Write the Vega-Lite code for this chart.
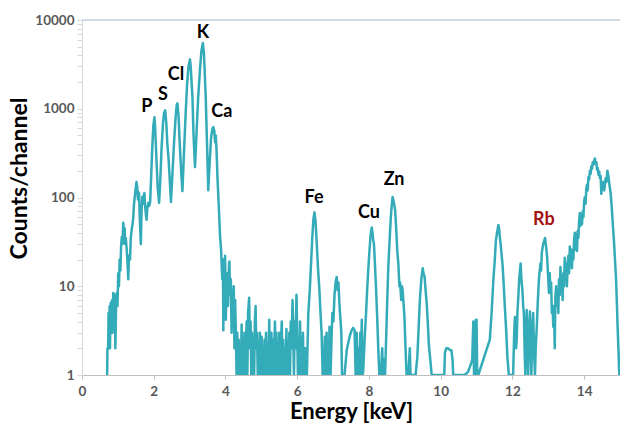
{
  "$schema": "https://vega.github.io/schema/vega-lite/v6.json",
  "width": 538,
  "height": 355,
  "autosize": "none",
  "padding": {"left": 82, "top": 20, "right": 1, "bottom": 48},
  "background": "white",
  "config": {"view": {"stroke": null}, "font": "Lato"},
  "datasets": {
    "spec": [
      {"e":0.70,"c":1},{"e":0.71,"c":2},{"e":0.73,"c":2},{"e":0.74,"c":5},{"e":0.75,"c":2},{"e":0.77,"c":6},{"e":0.78,"c":2},{"e":0.80,"c":6.5},{"e":0.82,"c":3},{"e":0.84,"c":7},{"e":0.85,"c":3},{"e":0.87,"c":8.4},{"e":0.89,"c":5},{"e":0.91,"c":8},{"e":0.93,"c":2},{"e":0.95,"c":6},{"e":0.97,"c":8.4},{"e":0.99,"c":6},
      {"e":1.01,"c":14},{"e":1.03,"c":10},{"e":1.05,"c":20},{"e":1.07,"c":15},{"e":1.09,"c":28},{"e":1.11,"c":36},{"e":1.13,"c":30},{"e":1.15,"c":52},{"e":1.17,"c":40},{"e":1.19,"c":45},{"e":1.20,"c":30},{"e":1.22,"c":35},{"e":1.25,"c":25},{"e":1.27,"c":18},{"e":1.29,"c":12},{"e":1.31,"c":22},{"e":1.34,"c":20},{"e":1.36,"c":35},{"e":1.39,"c":45},{"e":1.41,"c":50},{"e":1.43,"c":60},{"e":1.45,"c":85},{"e":1.47,"c":100},{"e":1.49,"c":120},{"e":1.52,"c":150},{"e":1.54,"c":130},{"e":1.56,"c":95},{"e":1.57,"c":115},{"e":1.59,"c":112},{"e":1.61,"c":60},{"e":1.64,"c":30},{"e":1.66,"c":70},{"e":1.68,"c":101},{"e":1.70,"c":85},{"e":1.72,"c":105},{"e":1.74,"c":112},{"e":1.76,"c":80},{"e":1.78,"c":65},{"e":1.80,"c":56},{"e":1.82,"c":75},{"e":1.85,"c":87},{"e":1.87,"c":80},{"e":1.90,"c":89},{"e":1.93,"c":180},{"e":1.96,"c":370},{"e":1.99,"c":650},{"e":2.02,"c":800},{"e":2.04,"c":600},{"e":2.08,"c":245},{"e":2.11,"c":130},{"e":2.15,"c":87},
      {"e":2.18,"c":150},{"e":2.22,"c":370},{"e":2.26,"c":700},{"e":2.29,"c":900},{"e":2.32,"c":960},{"e":2.35,"c":700},{"e":2.38,"c":400},{"e":2.41,"c":285},{"e":2.45,"c":150},{"e":2.48,"c":89},
      {"e":2.52,"c":180},{"e":2.57,"c":440},{"e":2.61,"c":800},{"e":2.64,"c":1100},{"e":2.66,"c":1150},{"e":2.69,"c":850},{"e":2.73,"c":370},{"e":2.77,"c":180},{"e":2.80,"c":118},
      {"e":2.84,"c":300},{"e":2.89,"c":890},{"e":2.93,"c":1900},{"e":2.97,"c":3000},{"e":3.01,"c":3600},{"e":3.03,"c":3000},{"e":3.08,"c":1350},{"e":3.11,"c":500},{"e":3.15,"c":220},
      {"e":3.19,"c":500},{"e":3.24,"c":1350},{"e":3.29,"c":2800},{"e":3.33,"c":4500},{"e":3.37,"c":5500},{"e":3.40,"c":4200},{"e":3.45,"c":1350},{"e":3.49,"c":350},{"e":3.52,"c":121},
      {"e":3.56,"c":250},{"e":3.60,"c":480},{"e":3.64,"c":600},{"e":3.66,"c":620},{"e":3.69,"c":560},{"e":3.71,"c":420},{"e":3.73,"c":500},{"e":3.75,"c":350},{"e":3.78,"c":157},{"e":3.82,"c":70},{"e":3.85,"c":36},{"e":3.88,"c":25},{"e":3.91,"c":12},{"e":3.93,"c":20},{"e":3.94,"c":3.2},{"e":3.96,"c":15},{"e":3.97,"c":11},{"e":3.99,"c":22},{"e":4.01,"c":4.2},{"e":4.03,"c":12},{"e":4.05,"c":14},{"e":4.07,"c":6},{"e":4.10,"c":18},{"e":4.11,"c":19},{"e":4.13,"c":8},{"e":4.15,"c":12},{"e":4.17,"c":3},{"e":4.19,"c":9},{"e":4.21,"c":4},{"e":4.23,"c":10},{"e":4.25,"c":2},{"e":4.27,"c":7},{"e":4.29,"c":3},{"e":4.31,"c":1},
      {"e":4.33,"c":3},{"e":4.35,"c":1},{"e":4.37,"c":2.5},{"e":4.39,"c":1},{"e":4.41,"c":2},{"e":4.43,"c":1},{"e":4.45,"c":3.7},{"e":4.47,"c":1},{"e":4.49,"c":2.5},{"e":4.51,"c":1},{"e":4.53,"c":3},{"e":4.55,"c":1},{"e":4.57,"c":2},{"e":4.59,"c":4},{"e":4.61,"c":1},{"e":4.63,"c":5},{"e":4.66,"c":7.4},{"e":4.68,"c":2},{"e":4.70,"c":4},{"e":4.72,"c":1},{"e":4.74,"c":3},{"e":4.76,"c":1},{"e":4.78,"c":2.5},{"e":4.80,"c":1},{"e":4.82,"c":4},{"e":4.84,"c":6},{"e":4.86,"c":2},{"e":4.88,"c":3},{"e":4.90,"c":1},{"e":4.92,"c":2},{"e":4.94,"c":1},{"e":4.96,"c":3},{"e":4.98,"c":1},{"e":5.01,"c":2.7},{"e":5.03,"c":1},{"e":5.05,"c":2},{"e":5.07,"c":1},{"e":5.09,"c":2.5},{"e":5.11,"c":1},{"e":5.13,"c":3},{"e":5.15,"c":1},{"e":5.17,"c":2},{"e":5.19,"c":1},{"e":5.22,"c":4.2},{"e":5.24,"c":1},{"e":5.26,"c":2},{"e":5.28,"c":3},{"e":5.30,"c":1},{"e":5.32,"c":2.5},{"e":5.34,"c":1},{"e":5.36,"c":2},{"e":5.38,"c":4},{"e":5.40,"c":1},{"e":5.42,"c":3},{"e":5.44,"c":1},{"e":5.46,"c":2},{"e":5.48,"c":1},{"e":5.50,"c":3},{"e":5.52,"c":1},{"e":5.54,"c":2},{"e":5.57,"c":4},{"e":5.59,"c":1},{"e":5.61,"c":2.5},{"e":5.63,"c":1},{"e":5.65,"c":2},{"e":5.67,"c":1},{"e":5.70,"c":3.3},{"e":5.72,"c":1},{"e":5.74,"c":2},{"e":5.76,"c":1},{"e":5.78,"c":3},{"e":5.80,"c":1},{"e":5.82,"c":4},{"e":5.84,"c":2},{"e":5.87,"c":7},{"e":5.89,"c":3},{"e":5.91,"c":1},{"e":5.93,"c":4},{"e":5.95,"c":2},{"e":5.98,"c":8},{"e":6.00,"c":3},{"e":6.02,"c":1},{"e":6.04,"c":2.5},{"e":6.06,"c":1},{"e":6.08,"c":4},{"e":6.10,"c":1},{"e":6.12,"c":2},{"e":6.14,"c":1},{"e":6.16,"c":3},{"e":6.18,"c":1},{"e":6.20,"c":2},{"e":6.22,"c":2},{"e":6.24,"c":1},
      {"e":6.27,"c":1},{"e":6.31,"c":5},{"e":6.35,"c":9},{"e":6.38,"c":16},{"e":6.42,"c":35},{"e":6.45,"c":56},{"e":6.48,"c":68},{"e":6.51,"c":55},{"e":6.54,"c":33},{"e":6.58,"c":16},{"e":6.62,"c":9},{"e":6.65,"c":5},{"e":6.68,"c":3},{"e":6.71,"c":1},{"e":6.74,"c":1},{"e":6.77,"c":2.7},{"e":6.79,"c":1},{"e":6.82,"c":3},{"e":6.84,"c":1},{"e":6.86,"c":2},{"e":6.88,"c":1},{"e":6.90,"c":3.5},{"e":6.93,"c":1},{"e":6.96,"c":2.7},{"e":6.98,"c":5},{"e":7.01,"c":4},{"e":7.04,"c":8},{"e":7.07,"c":11},{"e":7.10,"c":12.7},{"e":7.13,"c":9},{"e":7.15,"c":11},{"e":7.18,"c":6},{"e":7.21,"c":4},{"e":7.23,"c":3},{"e":7.25,"c":1},{"e":7.28,"c":1},
      {"e":7.32,"c":1},{"e":7.38,"c":1.9},{"e":7.46,"c":2.7},{"e":7.52,"c":3.2},{"e":7.56,"c":3.4},{"e":7.60,"c":3.2},{"e":7.63,"c":1},{"e":7.66,"c":3},{"e":7.68,"c":1},{"e":7.71,"c":2},{"e":7.73,"c":1},{"e":7.76,"c":3},{"e":7.78,"c":1},{"e":7.80,"c":4.2},{"e":7.82,"c":1},{"e":7.84,"c":1.1},
      {"e":7.88,"c":2.5},{"e":7.92,"c":5},{"e":7.95,"c":9},{"e":7.98,"c":15},{"e":8.01,"c":23.6},{"e":8.04,"c":35},{"e":8.06,"c":42},{"e":8.08,"c":46},{"e":8.10,"c":40},{"e":8.12,"c":33},{"e":8.14,"c":30},{"e":8.17,"c":17},{"e":8.20,"c":9},{"e":8.23,"c":4.5},{"e":8.26,"c":2},{"e":8.29,"c":1},{"e":8.33,"c":1},{"e":8.37,"c":2},{"e":8.39,"c":1},{"e":8.42,"c":1.5},{"e":8.45,"c":1},
      {"e":8.47,"c":1.9},{"e":8.50,"c":5},{"e":8.54,"c":16.5},{"e":8.58,"c":35},{"e":8.61,"c":60},{"e":8.64,"c":85},{"e":8.66,"c":101},{"e":8.69,"c":90},{"e":8.73,"c":72},{"e":8.76,"c":45},{"e":8.79,"c":25},{"e":8.82,"c":18},{"e":8.85,"c":10},{"e":8.87,"c":11},{"e":8.90,"c":7},{"e":8.92,"c":10},{"e":8.94,"c":9},{"e":8.97,"c":6},{"e":8.99,"c":4.5},{"e":9.02,"c":2},{"e":9.05,"c":1},{"e":9.10,"c":1},{"e":9.14,"c":2},{"e":9.16,"c":1},{"e":9.20,"c":1},{"e":9.25,"c":1},{"e":9.30,"c":1},
      {"e":9.35,"c":1.6},{"e":9.38,"c":3},{"e":9.42,"c":7},{"e":9.46,"c":12},{"e":9.50,"c":16},{"e":9.52,"c":14},{"e":9.55,"c":13},{"e":9.58,"c":9},{"e":9.61,"c":6.5},{"e":9.64,"c":4},{"e":9.67,"c":2.2},{"e":9.71,"c":1.5},{"e":9.75,"c":1},
      {"e":9.90,"c":1},{"e":10.05,"c":1},{"e":10.10,"c":1},{"e":10.12,"c":1.8},{"e":10.16,"c":2},{"e":10.21,"c":2},{"e":10.26,"c":1.9},{"e":10.30,"c":1.9},{"e":10.33,"c":1.5},{"e":10.35,"c":1},{"e":10.50,"c":1},{"e":10.63,"c":1},
      {"e":10.70,"c":1.02},{"e":10.77,"c":1.1},{"e":10.82,"c":1.25},{"e":10.86,"c":1.4},{"e":10.88,"c":1.5},{"e":10.91,"c":4},{"e":10.93,"c":1},{"e":10.96,"c":1},{"e":10.98,"c":4.2},{"e":11.00,"c":4.2},{"e":11.02,"c":1},{"e":11.05,"c":1},
      {"e":11.37,"c":2.5},{"e":11.42,"c":5},{"e":11.47,"c":12},{"e":11.51,"c":20},{"e":11.54,"c":33},{"e":11.58,"c":42},{"e":11.61,"c":49},{"e":11.63,"c":44},{"e":11.65,"c":36},{"e":11.69,"c":25},{"e":11.73,"c":16.5},{"e":11.76,"c":10},{"e":11.79,"c":5.8},{"e":11.83,"c":3},{"e":11.86,"c":1.6},{"e":11.90,"c":1},{"e":11.96,"c":1},{"e":12.02,"c":1},
      {"e":12.05,"c":3},{"e":12.07,"c":4.5},{"e":12.10,"c":2},{"e":12.12,"c":2.5},{"e":12.14,"c":5},{"e":12.16,"c":7},{"e":12.19,"c":12},{"e":12.21,"c":15},{"e":12.23,"c":18},{"e":12.25,"c":12},{"e":12.28,"c":9},{"e":12.30,"c":6},{"e":12.32,"c":5},{"e":12.34,"c":2},{"e":12.36,"c":1},{"e":12.38,"c":3},{"e":12.40,"c":5.4},{"e":12.42,"c":2},{"e":12.44,"c":1},{"e":12.46,"c":3},{"e":12.49,"c":5.2},{"e":12.51,"c":2},{"e":12.53,"c":1},{"e":12.55,"c":3},{"e":12.58,"c":5},{"e":12.60,"c":2},{"e":12.63,"c":1},{"e":12.65,"c":2},{"e":12.68,"c":3.5},{"e":12.71,"c":7},{"e":12.74,"c":12},{"e":12.78,"c":18},{"e":12.80,"c":15},{"e":12.82,"c":24},{"e":12.86,"c":30},{"e":12.89,"c":33},{"e":12.91,"c":35},{"e":12.94,"c":28},{"e":12.97,"c":21},
      {"e":13.00,"c":12},{"e":13.02,"c":8.4},{"e":13.04,"c":14},{"e":13.06,"c":9},{"e":13.08,"c":11},{"e":13.10,"c":5},{"e":13.12,"c":6},{"e":13.14,"c":3.5},{"e":13.16,"c":6},{"e":13.18,"c":2},{"e":13.20,"c":8},{"e":13.22,"c":10},{"e":13.24,"c":6},{"e":13.26,"c":9},{"e":13.28,"c":5},{"e":13.30,"c":12},{"e":13.32,"c":8},{"e":13.34,"c":16.5},{"e":13.36,"c":9},{"e":13.38,"c":12},{"e":13.40,"c":7},{"e":13.42,"c":14},{"e":13.44,"c":10},{"e":13.46,"c":21},{"e":13.48,"c":12},{"e":13.50,"c":18},{"e":13.52,"c":10},{"e":13.54,"c":17},{"e":13.56,"c":22},{"e":13.58,"c":14},{"e":13.60,"c":28},{"e":13.62,"c":18},{"e":13.64,"c":26},{"e":13.66,"c":16},{"e":13.68,"c":24},{"e":13.70,"c":20},{"e":13.72,"c":34},{"e":13.74,"c":40},{"e":13.76,"c":26},{"e":13.78,"c":38},{"e":13.80,"c":25},{"e":13.82,"c":42},{"e":13.84,"c":35},{"e":13.86,"c":55},{"e":13.88,"c":67},{"e":13.90,"c":48},{"e":13.92,"c":62},{"e":13.94,"c":50},{"e":13.96,"c":70},{"e":13.98,"c":60},{"e":14.00,"c":90},{"e":14.02,"c":101},{"e":14.04,"c":85},{"e":14.06,"c":125},{"e":14.08,"c":140},{"e":14.10,"c":120},{"e":14.12,"c":170},{"e":14.14,"c":160},{"e":14.16,"c":200},{"e":14.18,"c":185},{"e":14.20,"c":225},{"e":14.22,"c":210},{"e":14.24,"c":250},{"e":14.26,"c":235},{"e":14.28,"c":260},{"e":14.30,"c":275},{"e":14.32,"c":240},{"e":14.34,"c":250},{"e":14.36,"c":205},{"e":14.38,"c":215},{"e":14.40,"c":180},{"e":14.42,"c":195},{"e":14.44,"c":165},{"e":14.46,"c":175},{"e":14.48,"c":110},{"e":14.50,"c":140},{"e":14.52,"c":125},{"e":14.54,"c":150},{"e":14.56,"c":120},{"e":14.58,"c":140},{"e":14.60,"c":165},{"e":14.62,"c":150},{"e":14.65,"c":200},{"e":14.68,"c":170},{"e":14.70,"c":145},{"e":14.74,"c":110},{"e":14.77,"c":78},{"e":14.80,"c":50},{"e":14.83,"c":33},{"e":14.86,"c":20},{"e":14.89,"c":12},{"e":14.91,"c":7},{"e":14.93,"c":3.8},{"e":14.96,"c":1.8},{"e":14.98,"c":1}
    ],
    "labels": [
      {"e":1.81,"c":1050,"t":"P","col":"black"},
      {"e":2.26,"c":1430,"t":"S","col":"black"},
      {"e":2.62,"c":2400,"t":"Cl","col":"black"},
      {"e":3.37,"c":7150,"t":"K","col":"black"},
      {"e":3.90,"c":920,"t":"Ca","col":"black"},
      {"e":6.47,"c":98,"t":"Fe","col":"black"},
      {"e":8.00,"c":67,"t":"Cu","col":"black"},
      {"e":8.70,"c":157,"t":"Zn","col":"black"},
      {"e":12.88,"c":56,"t":"Rb","col":"#a3120f"}
    ]
  },
  "layer": [
    {
      "data": {"values": [{"y": 10000}]},
      "mark": {"type": "rule", "color": "#c3cfdb", "strokeWidth": 1.5},
      "encoding": {
        "y": {"field": "y", "type": "quantitative", "scale": {"type": "log", "domain": [1, 10000]}}
      }
    },
    {
      "data": {"name": "spec"},
      "mark": {"type": "line", "color": "#33abb8", "strokeWidth": 2.5, "strokeJoin": "round", "clip": true},
      "encoding": {
        "x": {
          "field": "e", "type": "quantitative",
          "scale": {"domain": [0, 15], "nice": false, "zero": false},
          "axis": {
            "values": [0,1,2,3,4,5,6,7,8,9,10,11,12,13,14,15],
            "labelExpr": "datum.value % 2 == 0 && datum.value < 15 ? datum.label : ''",
            "labelOverlap": false,
            "labelFlush": false,
            "grid": false,
            "domainColor": "#bfbfbf",
            "tickColor": "#bfbfbf",
            "tickSize": 4,
            "labelColor": "#595959",
            "labelFontSize": 13.5,
            "labelFontWeight": "bold",
            "labelFont": "Lato",
            "labelPadding": 5,
            "title": "Energy [keV]",
            "titleFont": "Lato",
            "titleFontSize": 22,
            "titleFontWeight": "bold",
            "titleColor": "black",
            "titleBaseline": "alphabetic",
            "titleY": 43
          }
        },
        "y": {
          "field": "c", "type": "quantitative",
          "scale": {"type": "log", "domain": [1, 10000], "nice": false},
          "axis": {
            "values": [1,2,3,4,5,6,7,8,9,10,20,30,40,50,60,70,80,90,100,200,300,400,500,600,700,800,900,1000,2000,3000,4000,5000,6000,7000,8000,9000,10000],
            "format": "d",
            "labelExpr": "datum.value == 1 || datum.value == 10 || datum.value == 100 || datum.value == 1000 || datum.value == 10000 ? datum.label : ''",
            "labelOverlap": false,
            "labelFlush": false,
            "grid": false,
            "domainColor": "#d9d9d9",
            "tickColor": "#d9d9d9",
            "tickSize": 5,
            "labelColor": "#595959",
            "labelFontSize": 13.5,
            "labelFontWeight": "bold",
            "labelFont": "Lato",
            "labelPadding": 3,
            "title": "Counts/channel",
            "titleFont": "Lato",
            "titleFontSize": 23,
            "titleFontWeight": "bold",
            "titleColor": "black",
            "titleAngle": -90,
            "titleAlign": "center",
            "titleBaseline": "middle",
            "titleX": -63,
            "titleY": 158
          }
        }
      }
    },
    {
      "data": {"name": "labels"},
      "mark": {"type": "text", "fontSize": 18, "fontWeight": "bold", "font": "Lato", "align": "center", "baseline": "middle"},
      "encoding": {
        "x": {"field": "e", "type": "quantitative"},
        "y": {"field": "c", "type": "quantitative"},
        "text": {"field": "t"},
        "color": {"field": "col", "type": "nominal", "scale": null}
      }
    }
  ]
}
